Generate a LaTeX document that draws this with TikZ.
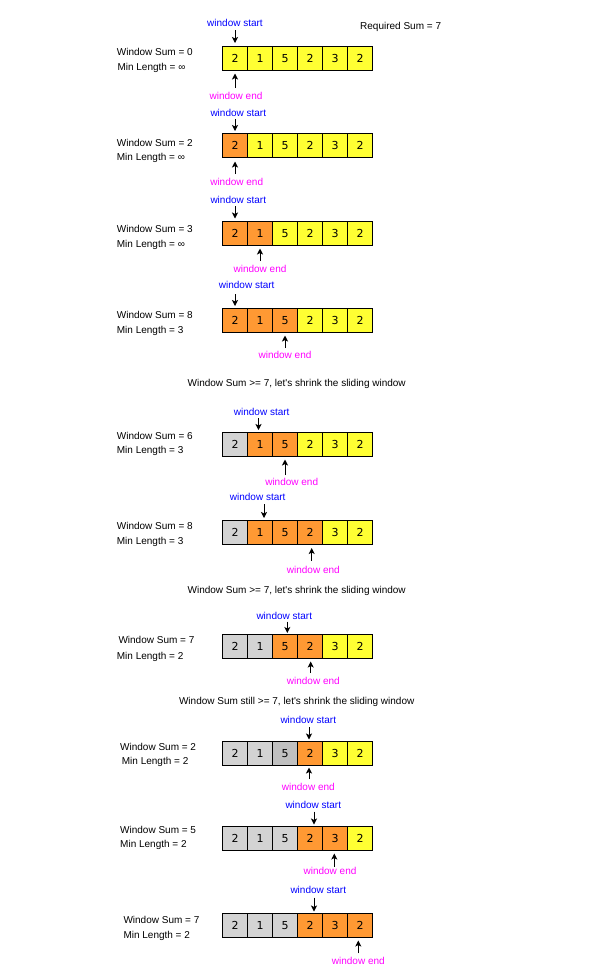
\documentclass[tikz,border=0pt]{standalone}
\usepackage{fontspec}
\setmainfont{Liberation Sans}
\newfontfamily\digitfont{DejaVu Sans}
\usetikzlibrary{arrows.meta}
\definecolor{cy}{HTML}{FFFF33}
\definecolor{co}{HTML}{FF9933}
\definecolor{cg}{HTML}{D3D3D3}
\definecolor{cd}{HTML}{C0C0C0}
\definecolor{tblue}{HTML}{0000FF}
\definecolor{tmag}{HTML}{FF00FF}
\tikzset{
  cell/.style={draw=black, line width=1.1pt, minimum width=25pt, minimum height=24pt,
    inner sep=0pt, text height=8pt, text depth=0pt, font=\digitfont\fontsize{11}{12}\selectfont},
  lbl/.style={anchor=west, inner sep=0pt, text height=7.2pt, text depth=0pt,
    font=\fontsize{10}{12}\selectfont},
  txt/.style={inner sep=0pt, text height=7.2pt, text depth=0pt,
    font=\fontsize{10}{12}\selectfont},
  startlbl/.style={txt, text=tblue},
  endlbl/.style={txt, text=tmag},
  arr/.style={draw=black, line width=1pt, -{Stealth[length=6pt,width=6pt,inset=1.5pt]}}
}
\newcommand\mycellrow[3]{%
  \foreach \c/\v [count=\i] in {#3} {
    \node[cell, fill=\c] (r#1c\i) at ({210+25*\i}, #2) {\v};
  }%
}
\newcommand\mystartarrow[4]{% row, x, y1, y2
  \coordinate (s#1a) at (#2,#3);
  \coordinate (s#1b) at (#2,#4);
  \draw[arr] (s#1a) -- (s#1b);
}
\newcommand\myendarrow[4]{% row, x, y1 (bottom), y2 (tip)
  \coordinate (e#1a) at (#2,#3);
  \coordinate (e#1b) at (#2,#4);
  \draw[arr] (e#1a) -- (e#1b);
}
\begin{document}
\begin{tikzpicture}[x=1pt,y=-1pt]
\useasboundingbox (0,0) rectangle (593,978);

\node[lbl] (req) at (360,25.5) {Required Sum = 7};

% Row 1
\mycellrow{1}{58.5}{cy/2,cy/1,cy/5,cy/2,cy/3,cy/2}
\node[lbl] (ws1) at (116.7,51.7) {Window Sum = 0};
\node[lbl] (ml1) at (117.3,66.7) {Min Length = ∞};
\node[startlbl] (st1) at (235,22.7) {window start};
\node[endlbl] (en1) at (236,96) {window end};
\mystartarrow{1}{235}{30}{43}
\myendarrow{1}{235}{88}{73.5}

% Row 2
\mycellrow{2}{145.5}{co/2,cy/1,cy/5,cy/2,cy/3,cy/2}
\node[lbl] (ws2) at (116.7,142.7) {Window Sum = 2};
\node[lbl] (ml2) at (116.7,157.2) {Min Length = ∞};
\node[startlbl] (st2) at (238.3,113) {window start};
\node[endlbl] (en2) at (236.7,182) {window end};
\mystartarrow{2}{235}{119}{131}
\myendarrow{2}{235}{174}{161.5}

% Row 3
\mycellrow{3}{233.5}{co/2,co/1,cy/5,cy/2,cy/3,cy/2}
\node[lbl] (ws3) at (116.7,229.3) {Window Sum = 3};
\node[lbl] (ml3) at (116.7,243.8) {Min Length = ∞};
\node[startlbl] (st3) at (238.3,200) {window start};
\node[endlbl] (en3) at (260,269.3) {window end};
\mystartarrow{3}{235}{206}{218.5}
\myendarrow{3}{260}{261}{248.5}

% Row 4
\mycellrow{4}{320.5}{co/2,co/1,co/5,cy/2,cy/3,cy/2}
\node[lbl] (ws4) at (116.7,315) {Window Sum = 8};
\node[lbl] (ml4) at (116.7,330) {Min Length = 3};
\node[startlbl] (st4) at (246.7,285) {window start};
\node[endlbl] (en4) at (285,355) {window end};
\mystartarrow{4}{235}{294}{306}
\myendarrow{4}{285}{348}{335.5}

\node[txt] (m1) at (296.7,383) {Window Sum >= 7, let\textquotesingle s shrink the sliding window};

% Row 5
\mycellrow{5}{444.5}{cg/2,co/1,co/5,cy/2,cy/3,cy/2}
\node[lbl] (ws5) at (116.7,435.7) {Window Sum = 6};
\node[lbl] (ml5) at (116.7,450) {Min Length = 3};
\node[startlbl] (st5) at (261.7,411.7) {window start};
\node[endlbl] (en5) at (291.7,481.7) {window end};
\mystartarrow{5}{258.5}{418}{430}
\myendarrow{5}{285}{475}{459.5}

% Row 6
\mycellrow{6}{532.5}{cg/2,co/1,co/5,co/2,cy/3,cy/2}
\node[lbl] (ws6) at (116.7,526) {Window Sum = 8};
\node[lbl] (ml6) at (116.7,540.5) {Min Length = 3};
\node[startlbl] (st6) at (257.7,496.7) {window start};
\node[endlbl] (en6) at (313.3,570) {window end};
\mystartarrow{6}{264}{504}{518}
\myendarrow{6}{311.7}{561}{548}

\node[txt] (m2) at (296.7,590) {Window Sum >= 7, let\textquotesingle s shrink the sliding window};

% Row 7
\mycellrow{7}{646.5}{cg/2,cg/1,co/5,co/2,cy/3,cy/2}
\node[lbl] (ws7) at (118.3,640) {Window Sum = 7};
\node[lbl] (ml7) at (116.7,655.7) {Min Length = 2};
\node[startlbl] (st7) at (284.3,615.7) {window start};
\node[endlbl] (en7) at (313.3,680.7) {window end};
\mystartarrow{7}{287.3}{621.7}{633}
\myendarrow{7}{310.7}{673}{661.5}

\node[txt] (m3) at (296.7,701) {Window Sum still >= 7, let\textquotesingle s shrink the sliding window};

% Row 8
\mycellrow{8}{753.5}{cg/2,cg/1,cd/5,co/2,cy/3,cy/2}
\node[lbl] (ws8) at (120,746.7) {Window Sum = 2};
\node[lbl] (ml8) at (121.7,760.5) {Min Length = 2};
\node[startlbl] (st8) at (308.3,720) {window start};
\node[endlbl] (en8) at (308.3,787.3) {window end};
\mystartarrow{8}{309}{727}{739.5}
\myendarrow{8}{309}{779}{767.5}

% Row 9
\mycellrow{9}{838.5}{cg/2,cg/1,cg/5,co/2,co/3,cy/2}
\node[lbl] (ws9) at (120,830) {Window Sum = 5};
\node[lbl] (ml9) at (120,844.3) {Min Length = 2};
\node[startlbl] (st9) at (313.3,805) {window start};
\node[endlbl] (en9) at (330,870.7) {window end};
\mystartarrow{9}{314}{811.7}{824.5}
\myendarrow{9}{334.3}{866.7}{853.5}

% Row 10
\mycellrow{10}{925.5}{cg/2,cg/1,cg/5,co/2,co/3,co/2}
\node[lbl] (ws10) at (123.3,920) {Window Sum = 7};
\node[lbl] (ml10) at (123.3,935) {Min Length = 2};
\node[startlbl] (st10) at (318.3,890) {window start};
\node[endlbl] (en10) at (358.3,961) {window end};
\mystartarrow{10}{314}{897.5}{911.5}
\myendarrow{10}{358.3}{953.3}{940.5}
\end{tikzpicture}
\end{document}
